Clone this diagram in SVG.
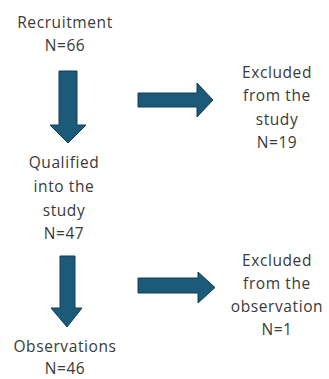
<svg xmlns="http://www.w3.org/2000/svg" width="329" height="379" viewBox="0 0 329 379">
<style>
text{font-family:"Open Sans","Liberation Sans",sans-serif;font-size:15.5px;fill:#3a3a3a;text-anchor:middle;letter-spacing:0.6px}
.arr{fill:#1b5a79;stroke:#123f57;stroke-width:1}
</style>
<rect width="329" height="379" fill="#fff"/>
<g id="recruitment"><text x="65" y="28">Recruitment</text><text x="65" y="51">N=66</text></g>
<g id="excluded-study"><text x="277" y="78">Excluded</text><text x="277" y="101">from the</text><text x="277" y="125">study</text><text x="277" y="148">N=19</text></g>
<g id="qualified"><text x="64" y="168">Qualified</text><text x="64" y="192">into the</text><text x="64" y="216">study</text><text x="64" y="239">N=47</text></g>
<g id="excluded-observation"><text x="277" y="266">Excluded</text><text x="277" y="289">from the</text><text x="277" y="312">observation</text><text x="277" y="335">N=1</text></g>
<g id="observations"><text x="65" y="352">Observations</text><text x="65" y="374">N=46</text></g>
<g id="connectors">
<path class="arr" d="M59,71 H77 V125 H86 L68,143 L50,125 H59 Z"/>
<path class="arr" d="M138,93 H197 V83 L213,100 L197,117 V107 H138 Z"/>
<path class="arr" d="M60,256 H75 V308 H82 L67,327 L51,308 H60 Z"/>
<path class="arr" d="M138,278 H198 V272 L215,287.5 L198,303 V293 H138 Z"/>
</g>
</svg>
